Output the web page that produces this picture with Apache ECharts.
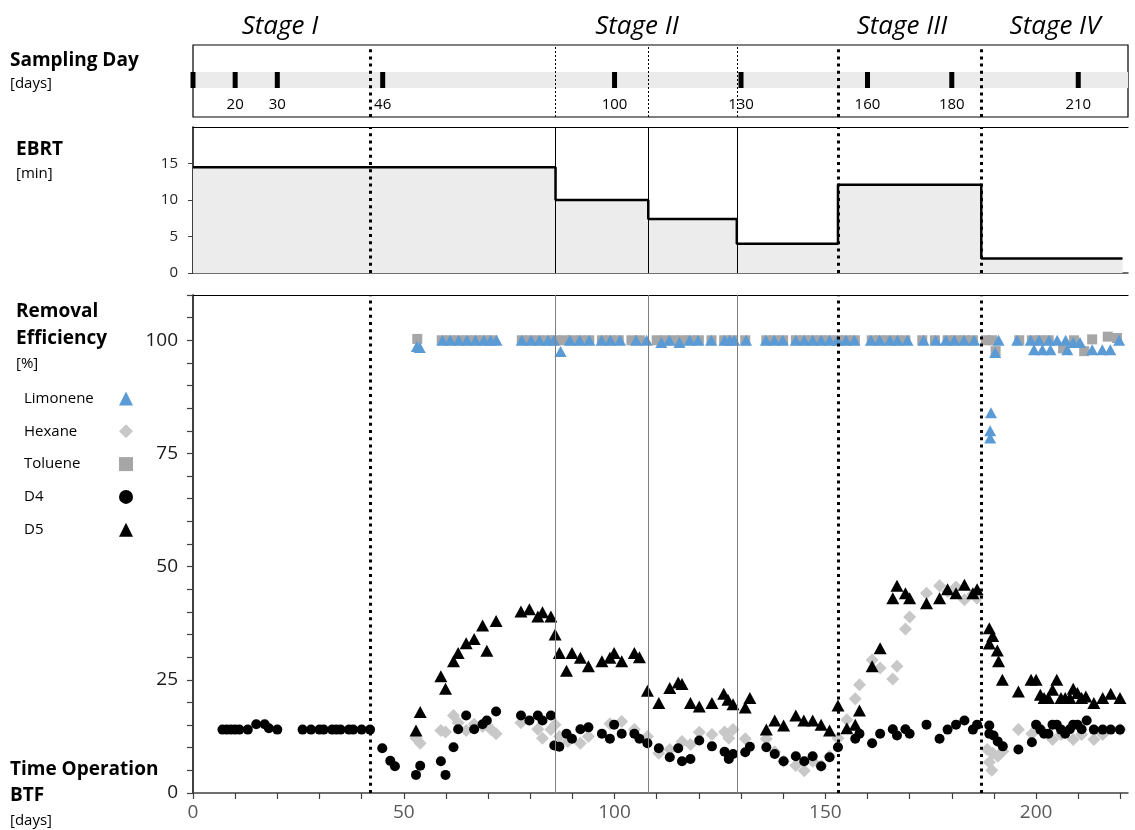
<!DOCTYPE html>
<html><head><meta charset="utf-8">
<script src="https://cdn.jsdelivr.net/npm/echarts@6/dist/echarts.min.js"></script>
<style>html,body{margin:0;padding:0;background:#fff}#c{width:1135px;height:830px}</style>
</head><body><div id="c"></div>
<script>
// ---------- data ----------
const sampleDays = [0, 10, 20, 45, 100, 130, 160, 180, 210];
const sampleLabels = ['', '20', '30', '46', '100', '130', '160', '180', '210'];

const stageBoundaries = [42, 153, 187];
const ebrtChanges = [86, 108, 129];

const ebrtDays = [0, 86, 108, 129, 153, 187, 220.5];
const ebrtValues = [14.5, 10, 7.4, 4.0, 12.1, 2.0, 2.0];

const xTickValues = [0,10,20,30,40,50,60,70,80,90,100,110,120,130,140,150,160,170,180,190,200,210,220];
const xLabelValues = [0, 50, 100, 150, 200];
const yLabelValues = [0, 25, 50, 75, 100];
const ebrtLabelValues = [0, 5, 10, 15];

const limonene = [
  [53.1,98.6],[53.8,98.4],[59.2,100],[61,100],[63,100],[65,100],[67,100],[69,100],[70.6,100],[72,100],
  [78,100],[80.2,100],[82.2,100],[84.2,100],[85.6,100],[87.2,97.5],[89.4,100],[91.7,100],[94,100],
  [96.9,100],[99,100],[101.3,100],[105.1,100],[107.6,100],[111.1,99.5],[113,100],[115.4,99.5],
  [117.8,100],[119.8,100],[122.9,100],[126.1,100],[127.3,100],[128.4,100],[131.2,100],[135.9,100],
  [137.9,100],[139.9,100],[143,100],[145,100],[147,100],[149,100],[151,100],[152.9,100],[154.9,100],
  [156.9,100],[160.8,100],[162.9,100],[165.3,100],[167.1,100],[169.5,100],[173.3,100],[176.2,100],
  [178.6,100],[180.6,100],[182.9,100],[185.3,100],[190.3,97.3],[191.1,100],[195.5,100],[198.7,100],
  [200.7,100],[203.1,100],[205,100],[207,100],[208.8,99.5],[210.4,99.5],[219.7,100],
  [199.5,97.9],[201.5,97.9],[203.4,97.9],[207.4,97.9],[213.3,97.9],[215.7,97.9],[217.6,97.9],
  [189.3,84],[189.1,80],[189.1,78.4]
];
const toluene = [
  [53.2,100.3],[59,100],[61,100],[63,100],[65,100],[67,100],[69,100],[71,100],[78,100],[80,100],
  [82,100],[84,100],[86,100],[88,100],[90,100],[92,100],[94,100],[97,100],[99,100],[101,100],
  [104,100],[106,100],[110,100],[112,100],[114,100],[116,100],[118,100],[120,100],[123,100],
  [126,100],[128,100],[131,100],[136,100],[138,100],[140,100],[143,100],[145,100],[147,100],
  [149,100],[151,100],[153,100],[155,100],[157,100],[161,100],[163,100],[165,100],[167,100],
  [169,100],[173,100],[176,100],[179,100],[181,100],[183,100],[185,100],[188.1,100],[189.6,100],
  [190.4,97.6],[196,100],[199,100],[201,100],[203,100],[206.4,98.2],[209,100],[211.4,97.6],
  [213.3,100.2],[217,100.8],[219.2,100.5]
];
const hexane = [
  [52.9,12.1],[53.9,11.0],[58.8,13.8],[59.9,13.5],[61.8,17.1],[62.9,15.5],[64.8,13.8],[66.7,15.2],
  [68.7,14.7],[70.7,14.0],[71.9,13.1],[77.8,15.5],[81.8,14.1],[82.9,12.1],[84.9,14.0],[85.9,15.1],
  [86.9,12.5],[88.9,11.4],[91.9,11.0],[93.8,12.5],[98.9,15.3],[101.7,15.8],[104.7,14.0],[107.8,12.5],
  [110.5,8.8],[113.1,9.6],[116.0,11.4],[118.0,10.7],[120.1,13.4],[123.1,12.9],[126.1,13.5],[127.1,12.1],
  [128.1,14.0],[131.0,12.0],[136.0,12.0],[138.0,9.1],[140.1,7.0],[143.0,6.1],[145.0,4.9],[147.0,7.0],
  [149.0,6.0],[151.0,8.1],[153.0,12.1],[155.1,16.2],[157.1,20.8],[158.1,23.9],[161.1,29.4],[163.0,27.6],
  [166.0,25.2],[167.0,28.0],[169.0,36.2],[170.0,38.9],[174.0,44.1],[177.1,45.8],[179.0,44.5],[181.0,45.5],
  [183.0,42.7],[185.0,43.9],[186.0,43.0],[188.4,9.6],[188.9,6.8],[189.5,5.0],[189.7,8.8],[190.9,8.1],
  [192.1,9.2],[195.8,14.0],[199.0,13.1],[201.0,14.3],[203.9,11.8],[205.9,12.9],[208.8,11.8],[210.8,12.9],
  [213.7,11.8],[215.8,12.9],[219.9,14.0]
];
const d4 = [
  [7,14],[8,14],[9,14],[10,14],[11,14],[13,14],[15,15.2],[17,15.2],[18,14.3],[20,14],
  [26,14],[28,14],[30,14],[31,14],[33,14],[34,14],[35,14],[37,14],[38,14],[40,14],[42,14],
  [44.9,9.9],[46.8,7.1],[47.9,5.9],[52.9,4.0],[53.9,6.0],[58.8,7.0],[59.9,4.0],[61.8,10.1],[62.9,14.1],
  [64.8,17.1],[66.7,14.1],[68.7,15.2],[69.7,16.0],[71.9,18.0],[77.8,17.1],[79.8,16.0],[81.8,17.1],
  [82.9,16.0],[84.9,17.1],[85.7,10.5],[86.9,10.2],[88.6,13.1],[89.9,12.0],[91.9,14.1],[93.8,14.5],
  [97.0,13.1],[98.9,12.0],[99.9,15.1],[101.7,13.1],[104.7,13.1],[105.9,12.0],[107.8,11.0],[110.5,9.9],
  [113.1,7.9],[115.1,9.9],[116.0,7.0],[118.0,7.5],[120.1,11.6],[123.1,10.3],[126.1,9.1],[127.1,7.5],
  [128.1,8.6],[131.0,9.0],[132.1,10.2],[136.0,10.1],[138.0,8.6],[140.1,7.0],[143.0,8.1],[145.0,7.0],
  [147.0,8.1],[149.0,5.9],[151.0,7.9],[153.0,10.1],[157.1,12.0],[158.1,13.1],[161.1,11.0],[163.0,13.1],
  [166.0,14.1],[167.0,12.7],[169.0,14.1],[170.0,13.1],[174.0,15.1],[177.1,12.0],[179.0,14.0],[181.0,15.1],
  [183.0,16.0],[185.0,14.0],[186.0,15.1],[188.9,14.9],[188.9,13.1],[189.9,12.7],[190.9,11.4],[192.1,10.3],
  [195.8,9.6],[199.0,11.2],[200.0,15.1],[201.0,14.0],[201.9,13.1],[202.9,13.1],[203.9,15.1],[204.9,15.1],
  [205.9,14.0],[206.9,13.1],[208.0,14.1],[208.8,15.1],[209.8,15.1],[210.8,14.1],[212.0,16.0],[213.7,14.0],
  [215.8,14.0],[217.7,14.0],[219.9,14.0]
];
const d5 = [
  [52.9,13.8],[53.9,17.9],[58.8,25.8],[59.9,23.0],[61.8,29.1],[62.9,30.9],[64.8,33.1],[66.7,34.0],
  [68.7,37.0],[69.7,31.4],[71.9,38.0],[77.8,40.1],[79.8,40.6],[81.8,39.0],[82.9,39.9],[84.9,39.0],
  [85.9,35.0],[86.9,30.9],[88.6,27.0],[89.9,30.9],[91.9,29.9],[93.8,28.0],[97.0,29.1],[98.9,29.9],
  [99.9,30.9],[101.7,29.1],[104.7,30.9],[105.9,30.0],[107.8,22.6],[110.5,19.9],[113.1,23.2],[115.1,24.4],
  [116.0,24.1],[118.0,19.9],[120.1,19.1],[123.1,19.9],[125.9,21.9],[126.9,20.6],[128.1,19.6],[131.0,18.9],
  [132.1,21.0],[136.0,14.0],[138.0,16.0],[140.1,14.9],[143.0,17.1],[144.9,16.0],[147.0,16.0],[149.0,15.1],
  [151.0,13.8],[153.0,19.3],[155.1,14.3],[157.1,15.1],[158.1,18.2],[161.1,28.0],[163.0,32.0],[166.0,43.0],
  [167.0,45.8],[169.0,44.1],[170.0,43.0],[174.0,41.9],[177.1,43.0],[179.0,45.0],[181.0,44.1],[183.0,46.0],
  [185.0,44.1],[186.0,45.0],[188.9,36.4],[189.7,34.7],[188.9,33.0],[190.8,31.5],[191.1,29.1],[192.0,25.0],
  [195.8,22.4],[198.8,25.0],[200.0,25.0],[201.0,21.7],[201.9,21.0],[202.9,21.0],[203.9,22.8],[204.9,25.0],
  [205.9,21.0],[206.9,21.0],[208.0,21.0],[208.8,23.0],[209.8,22.1],[210.8,21.0],[211.8,21.3],[213.7,19.9],
  [215.8,21.0],[217.7,21.9],[219.9,21.0]
];

// ---------- chart ----------
const FONT = '"Open Sans", sans-serif';
const XMAX = 221.8;
const GL = 193, GW = 935;
const chart = echarts.init(document.getElementById('c'));

const dotted = {color:'#000', width:3, type:[3,4.2]};
function stageLines(extra){
  const d = stageBoundaries.map(v => ({xAxis:v, lineStyle:dotted}));
  return d.concat(ebrtChanges.map(v => ({xAxis:v, lineStyle:extra})));
}
function mk(extra){
  return {silent:true, symbol:'none', label:{show:false}, animation:false, data:stageLines(extra)};
}
function topLine(grid){
  return {gridIndex:grid, type:'value', min:0, max:XMAX, position:'top',
    axisLine:{show:true, onZero:false, lineStyle:{color:'#000', width:1.2}},
    axisTick:{show:false}, axisLabel:{show:false}, splitLine:{show:false}};
}
function txt(t, x, y, font, extra){
  return {type:'text', style:Object.assign({text:t, x:x, y:y, font:font, fill:'#000', verticalAlign:'middle'}, extra||{})};
}
const STAGE_FONT = 'italic 26px "Open Sans"';
const HEAD_FONT = 'bold 19px "Open Sans"';
const UNIT_FONT = '15px "Open Sans"';

const option = {
  animation:false,
  backgroundColor:'#fff',
  textStyle:{fontFamily:FONT},
  grid:[
    {left:GL, top:45, width:GW, height:72, show:true, borderColor:'#000', borderWidth:1.2, backgroundColor:'transparent'},
    {left:GL, top:127, width:GW, height:146},
    {left:GL, top:295, width:GW, height:498}
  ],
  xAxis:[
    {gridIndex:0, type:'value', min:0, max:XMAX, show:false},
    {gridIndex:1, type:'value', min:0, max:XMAX,
      axisLine:{show:true, onZero:false, lineStyle:{color:'#404040', width:1.5}},
      axisTick:{show:false}, axisLabel:{show:false}, splitLine:{show:false}},
    topLine(1),
    {gridIndex:2, type:'value', min:0, max:XMAX,
      axisLine:{show:true, onZero:false, lineStyle:{color:'#404040', width:1.5}},
      axisTick:{show:true, customValues:xTickValues, length:6, lineStyle:{color:'#404040', width:1.2}},
      axisLabel:{customValues:xLabelValues, fontSize:19, color:'#595959', margin:10, fontFamily:FONT},
      splitLine:{show:false}},
    topLine(2)
  ],
  yAxis:[
    {gridIndex:0, type:'value', min:0, max:1, show:false},
    {gridIndex:1, type:'value', min:0, max:20,
      axisLine:{show:true, lineStyle:{color:'#000', width:1.5}},
      axisTick:{show:true, customValues:ebrtLabelValues, length:5, lineStyle:{color:'#404040'}},
      axisLabel:{customValues:ebrtLabelValues, fontSize:15, color:'#262626', margin:15, fontFamily:FONT},
      splitLine:{show:false}},
    {gridIndex:2, type:'value', min:0, max:110, interval:5,
      axisLine:{show:true, lineStyle:{color:'#000', width:1.5}},
      axisTick:{show:true, length:6, lineStyle:{color:'#404040', width:1.2}},
      axisLabel:{customValues:yLabelValues, fontSize:19, color:'#1a1a1a', margin:15, fontFamily:FONT},
      splitLine:{show:false}}
  ],
  legend:{
    orient:'vertical', left:19, top:386, align:'right',
    itemWidth:14, itemHeight:14, itemGap:17.8,
    data:['Limonene','Hexane','Toluene','D4','D5'],
    formatter:name => '{a|' + name + '}',
    textStyle:{fontFamily:FONT, fontSize:15, color:'#000',
      rich:{a:{width:90, align:'left', fontFamily:FONT, fontSize:15, color:'#000'}}},
    selectedMode:false
  },
  graphic:[
    txt('Stage I', 280, 27, STAGE_FONT, {align:'center'}),
    txt('Stage II', 637, 27, STAGE_FONT, {align:'center'}),
    txt('Stage III', 902, 27, STAGE_FONT, {align:'center'}),
    txt('Stage IV', 1055, 27, STAGE_FONT, {align:'center'}),
    txt('Sampling Day', 10, 61, HEAD_FONT),
    txt('[days]', 10, 84, UNIT_FONT),
    txt('EBRT', 16, 150, HEAD_FONT),
    txt('[min]', 16, 174, UNIT_FONT),
    txt('Removal', 16, 312, HEAD_FONT),
    txt('Efficiency', 16, 339, HEAD_FONT),
    txt('[%]', 16, 364, UNIT_FONT),
    txt('Time Operation', 10, 770, HEAD_FONT),
    txt('BTF', 10, 796, HEAD_FONT),
    txt('[days]', 10, 821, UNIT_FONT)
  ],
  series:[
    {
      name:'sampling', type:'scatter', xAxisIndex:0, yAxisIndex:0,
      data:sampleDays.map(d => [d, 0.514]),
      symbol:'rect', symbolSize:[5,16], itemStyle:{color:'#000', opacity:1}, silent:true, z:5,
      label:{show:true, position:'bottom', distance:9, fontSize:15, color:'#000', fontFamily:FONT,
        formatter:p => sampleLabels[p.dataIndex]},
      markArea:{silent:true, itemStyle:{color:'#ebebeb'}, data:[[{yAxis:0.403},{yAxis:0.625}]]},
      markLine:mk({color:'#000', width:1, type:[2,2]})
    },
    {
      name:'EBRT', type:'line', xAxisIndex:1, yAxisIndex:1, step:'end', showSymbol:false, symbol:'none',
      data:ebrtDays.map((d,i) => [d, ebrtValues[i]]),
      lineStyle:{color:'#000', width:2.5}, areaStyle:{color:'#ececec', opacity:1}, silent:true,
      markLine:mk({color:'#000', width:1, type:'solid'})
    },
    {
      name:'Hexane', type:'scatter', xAxisIndex:3, yAxisIndex:2, data:hexane, symbol:'diamond',
      symbolSize:[13,13], itemStyle:{color:'#c8c8c8', opacity:1}, z:2,
      markLine:mk({color:'#808080', width:1, type:'solid'})
    },
    {
      name:'Toluene', type:'scatter', xAxisIndex:3, yAxisIndex:2, data:toluene, symbol:'rect',
      symbolSize:10, itemStyle:{color:'#a6a6a6', opacity:1}, z:2
    },
    {
      name:'Limonene', type:'scatter', xAxisIndex:3, yAxisIndex:2, data:limonene, symbol:'triangle',
      symbolSize:[12,11], itemStyle:{color:'#5b9bd5', opacity:1}, z:3
    },
    {
      name:'D4', type:'scatter', xAxisIndex:3, yAxisIndex:2, data:d4, symbol:'circle',
      symbolSize:10, itemStyle:{color:'#000', opacity:1}, z:4
    },
    {
      name:'D5', type:'scatter', xAxisIndex:3, yAxisIndex:2, data:d5, symbol:'triangle',
      symbolSize:[13,12], itemStyle:{color:'#000', opacity:1}, z:4
    }
  ]
};
chart.setOption(option);
</script>
</body></html>
